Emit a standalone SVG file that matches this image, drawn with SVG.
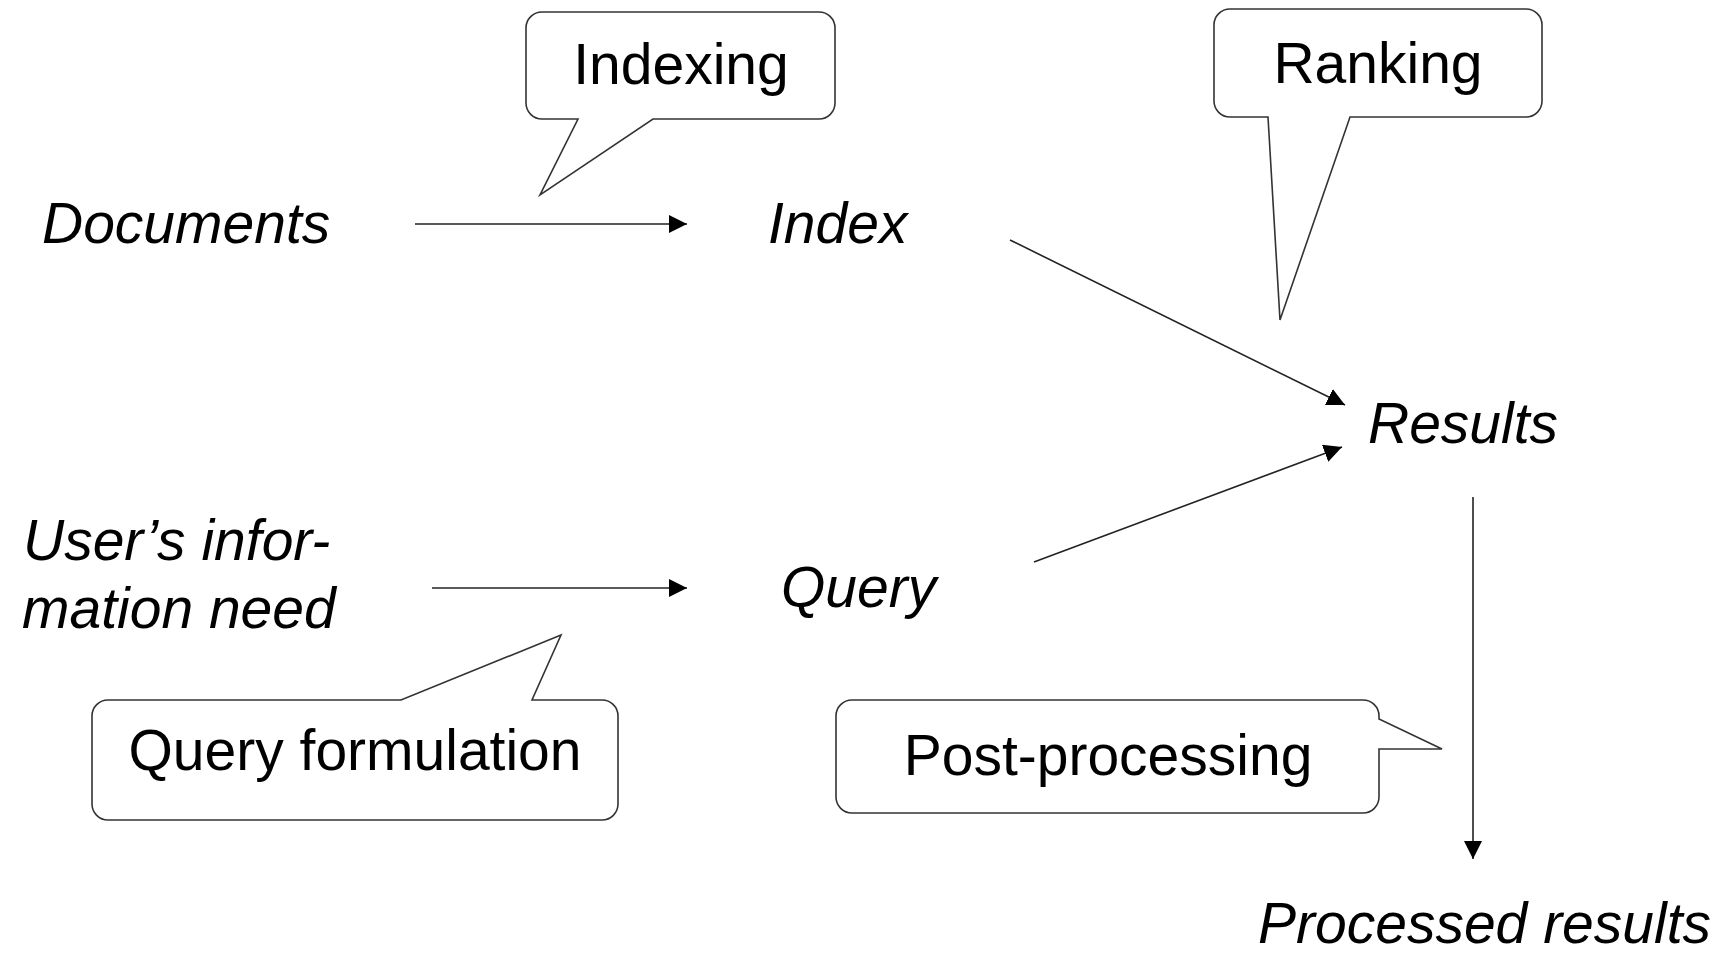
<svg xmlns="http://www.w3.org/2000/svg" width="1721" height="957" viewBox="0 0 1721 957">
  <style>
    .bg { fill: #ffffff; }
    .callout { fill: #ffffff; stroke: #333333; stroke-width: 1.6; stroke-linejoin: miter; }
    .term { font-family: "Liberation Sans", Arial, sans-serif; font-size: 57px; font-style: italic; fill: #000000; }
    .step { font-family: "Liberation Sans", Arial, sans-serif; font-size: 57px; fill: #000000; text-anchor: middle; }
    .flow { fill: none; stroke: #222222; stroke-width: 1.6; marker-end: url(#arrow); }
  </style>
  <defs>
    <marker id="arrow" markerUnits="userSpaceOnUse" markerWidth="19" markerHeight="19" refX="18" refY="9" orient="auto">
      <path d="M0,0 L18,9 L0,18 Z" fill="#000000"/>
    </marker>
  </defs>

  <rect class="bg" x="0" y="0" width="1721" height="957"/>

  <!-- flow arrows -->
  <g id="connectors">
    <line class="flow" x1="415" y1="224" x2="687" y2="224"/>
    <line class="flow" x1="432" y1="588" x2="687" y2="588"/>
    <line class="flow" x1="1010" y1="240" x2="1345" y2="405"/>
    <line class="flow" x1="1034" y1="562" x2="1342" y2="447"/>
    <line class="flow" x1="1473" y1="497" x2="1473" y2="859"/>
  </g>

  <!-- terms -->
  <g id="documents"><text class="term" x="42" y="243">Documents</text></g>
  <g id="index"><text class="term" x="768" y="243">Index</text></g>
  <g id="results"><text class="term" x="1368" y="443">Results</text></g>
  <g id="information-need">
    <text class="term" x="23" y="560">User’s infor-</text>
    <text class="term" x="22" y="628">mation need</text>
  </g>
  <g id="query"><text class="term" x="781" y="607">Query</text></g>
  <g id="processed-results"><text class="term" x="1258" y="943">Processed results</text></g>

  <!-- callouts -->
  <g id="indexing">
    <path class="callout" d="M542,12 H819 A16,16 0 0 1 835,28 V103 A16,16 0 0 1 819,119 H653 L540,195 L578,119 H542 A16,16 0 0 1 526,103 V28 A16,16 0 0 1 542,12 Z"/>
    <text class="step" x="681" y="84">Indexing</text>
  </g>
  <g id="ranking">
    <path class="callout" d="M1230,9 H1526 A16,16 0 0 1 1542,25 V101 A16,16 0 0 1 1526,117 H1350 L1280,320 L1268,117 H1230 A16,16 0 0 1 1214,101 V25 A16,16 0 0 1 1230,9 Z"/>
    <text class="step" x="1378" y="83">Ranking</text>
  </g>
  <g id="query-formulation">
    <path class="callout" d="M108,700 H401 L561,635 L532,700 H602 A16,16 0 0 1 618,716 V804 A16,16 0 0 1 602,820 H108 A16,16 0 0 1 92,804 V716 A16,16 0 0 1 108,700 Z"/>
    <text class="step" x="355" y="770">Query formulation</text>
  </g>
  <g id="post-processing">
    <path class="callout" d="M852,700 H1363 A16,16 0 0 1 1379,716 V719 L1442,749 H1379 V797 A16,16 0 0 1 1363,813 H852 A16,16 0 0 1 836,797 V716 A16,16 0 0 1 852,700 Z"/>
    <text class="step" x="1108" y="775">Post-processing</text>
  </g>
</svg>
